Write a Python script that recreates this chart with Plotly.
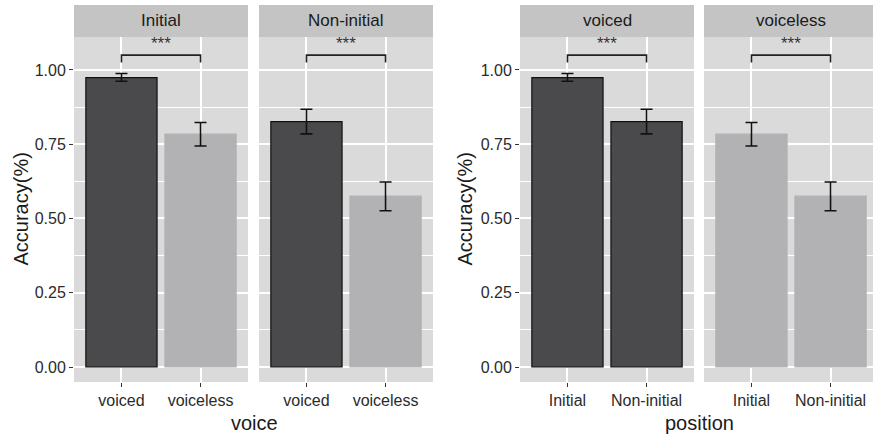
import plotly.graph_objects as go

# ---- data ----
voice_cats = ["voiced", "voiceless"]
position_cats = ["Initial", "Non-initial"]

# accuracy by position (facet) x voice
acc_initial = [0.974, 0.784]
err_initial_hi = [0.988, 0.823]
err_initial_lo = [0.962, 0.744]

acc_noninitial = [0.826, 0.575]
err_noninitial_hi = [0.868, 0.623]
err_noninitial_lo = [0.785, 0.526]

sig_label = "***"
y_ticks = [0.0, 0.25, 0.5, 0.75, 1.0]
y_ticktext = ["0.00", "0.25", "0.50", "0.75", "1.00"]

DARK = "#4a4a4c"
LIGHT = "#b2b2b4"
PANEL = "#dadada"
STRIP = "#c4c4c4"
FONT = "Liberation Sans, Arial, sans-serif"

W, H = 873, 439
fig = go.Figure()

panels = [
    (1, "Initial", voice_cats, acc_initial, err_initial_hi, err_initial_lo, [DARK, LIGHT]),
    (2, "Non-initial", voice_cats, acc_noninitial, err_noninitial_hi, err_noninitial_lo, [DARK, LIGHT]),
    (3, "voiced", position_cats, [acc_initial[0], acc_noninitial[0]],
     [err_initial_hi[0], err_noninitial_hi[0]], [err_initial_lo[0], err_noninitial_lo[0]], [DARK, DARK]),
    (4, "voiceless", position_cats, [acc_initial[1], acc_noninitial[1]],
     [err_initial_hi[1], err_noninitial_hi[1]], [err_initial_lo[1], err_noninitial_lo[1]], [LIGHT, LIGHT]),
]

px_x = [(74, 248), (259, 433), (520, 694), (704, 873)]
panel_top, panel_bot = 37, 382
strip_top = 5
unit_px = 174 / 2.2

for (i, label, cats, vals, hi, lo, cols), (x0, x1) in zip(panels, px_x):
    xa = "x" if i == 1 else f"x{i}"
    ya = "y" if i == 1 else f"y{i}"
    line_cols = ["#111111" if c == DARK else LIGHT for c in cols]
    fig.add_trace(go.Bar(
        x=cats, y=vals, xaxis=xa, yaxis=ya, width=0.9,
        marker=dict(color=cols, line=dict(color=line_cols, width=1.2)),
        error_y=dict(type="data", symmetric=False,
                     array=[h - v for h, v in zip(hi, vals)],
                     arrayminus=[v - l for v, l in zip(vals, lo)],
                     color="#111111", thickness=1.6, width=6),
        showlegend=False, hoverinfo="skip"))
    # significance bracket
    fig.add_trace(go.Scatter(
        x=[cats[0], cats[0], cats[1], cats[1]], y=[1.025, 1.05, 1.05, 1.025],
        xaxis=xa, yaxis=ya, mode="lines",
        line=dict(color="#222222", width=1.6), showlegend=False, hoverinfo="skip"))
    fig.add_annotation(x=0.5, y=1.05, xref=xa, yref=ya, text=sig_label,
                       showarrow=False, yanchor="bottom", yshift=0,
                       font=dict(family=FONT, size=17, color="#333333"))

    dom = [x0 / W, x1 / W]
    rng_hi = -0.6 + (x1 - x0) / unit_px
    ax_idx = "" if i == 1 else str(i)
    fig.layout[f"xaxis{ax_idx}"] = dict(
        domain=dom, anchor=ya, type="category", categoryorder="array",
        categoryarray=cats, range=[-0.6, rng_hi],
        showgrid=True, gridcolor="white", gridwidth=1.5,
        ticks="outside", ticklen=4, tickwidth=1.2, tickcolor="#333333",
        tickfont=dict(family=FONT, size=16, color="#2b2b2b"),
        showline=False, zeroline=False, fixedrange=True)
    fig.layout[f"yaxis{ax_idx}"] = dict(
        domain=[1 - panel_bot / H, 1 - panel_top / H], anchor=xa,
        range=[-0.0505, 1.111], tickvals=y_ticks, ticktext=y_ticktext,
        showticklabels=(i in (1, 3)),
        ticks="outside" if i in (1, 3) else "", ticklen=4, tickwidth=1.2,
        tickcolor="#333333",
        tickfont=dict(family=FONT, size=16, color="#2b2b2b"),
        showgrid=True, gridcolor="white", gridwidth=1.5,
        minor=dict(tick0=0.125, dtick=0.25, showgrid=True, gridcolor="white", gridwidth=0.7),
        zeroline=False, showline=False, fixedrange=True)
    fig.add_shape(type="rect", xref="paper", yref="paper", layer="below",
                  x0=dom[0], x1=dom[1], y0=1 - panel_bot / H, y1=1 - panel_top / H,
                  fillcolor=PANEL, line=dict(width=0))
    fig.add_shape(type="rect", xref="paper", yref="paper",
                  x0=dom[0], x1=dom[1], y0=1 - panel_top / H, y1=1 - strip_top / H,
                  fillcolor=STRIP, line=dict(width=0))
    sx = (x0 + 87) / W if i == 4 else (dom[0] + dom[1]) / 2
    fig.add_annotation(x=sx, y=1 - (panel_top + strip_top) / 2 / H, xref="paper", yref="paper",
                       text=label, showarrow=False, xanchor="center", yanchor="middle",
                       font=dict(family=FONT, size=17, color="#1a1a1a"))

for txt, xc in [("voice", 254), ("position", 699)]:
    fig.add_annotation(x=xc / W, y=1 - 423 / H, xref="paper", yref="paper", text=txt,
                       showarrow=False, xanchor="center", yanchor="middle",
                       font=dict(family=FONT, size=20, color="#1a1a1a"))
for xc in [20, 464]:
    fig.add_annotation(x=xc / W, y=1 - 209.5 / H, xref="paper", yref="paper",
                       text="Accuracy(%)", textangle=-90, showarrow=False,
                       xanchor="center", yanchor="middle",
                       font=dict(family=FONT, size=20, color="#1a1a1a"))

fig.update_layout(width=W, height=H, margin=dict(l=0, r=0, t=0, b=0),
                  paper_bgcolor="white", plot_bgcolor="rgba(0,0,0,0)",
                  bargap=0.1)
fig.write_html("out.html", config={"displayModeBar": False},
               post_script="document.body.style.margin='0';document.body.style.overflow='hidden';")
